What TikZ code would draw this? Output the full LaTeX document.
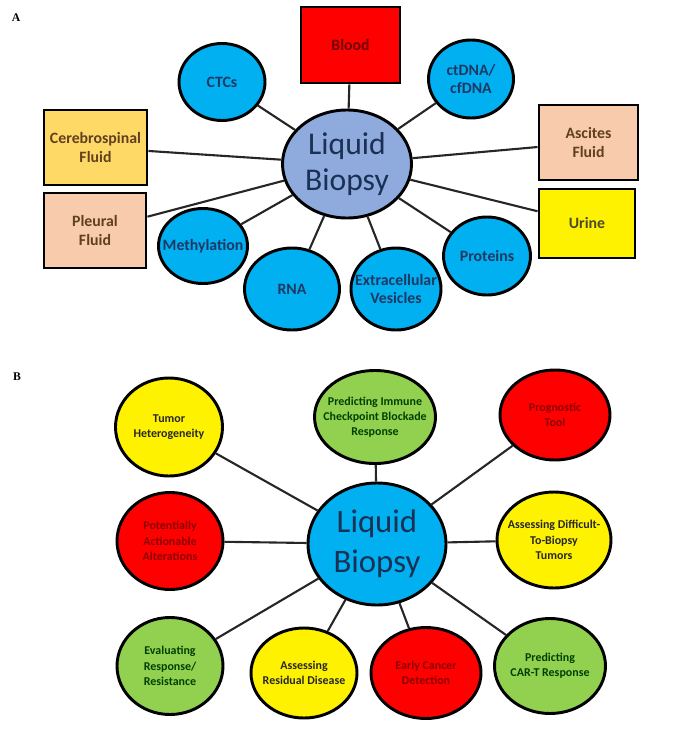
\documentclass[tikz,border=0pt]{standalone}
\usepackage{fontspec}
\setmainfont{Carlito}
\newfontfamily\panelfont{Liberation Serif}
\usetikzlibrary{shapes.geometric}

\definecolor{skyblue}{RGB}{0,176,240}
\definecolor{hubblue}{RGB}{143,170,220}
\definecolor{sand}{RGB}{255,217,102}
\definecolor{peach}{RGB}{248,203,173}
\definecolor{leaf}{RGB}{146,208,80}
\definecolor{navy}{RGB}{31,56,100}

\begin{document}
\begin{tikzpicture}[x=0.03cm, y=-0.03cm,
    sz/.style 2 args={minimum width=#1*0.03cm, minimum height=#2*0.03cm},
    bubble/.style={ellipse, draw=black, line width=2.5pt, inner sep=0pt},
    box/.style={rectangle, draw=black, line width=2.5pt, inner sep=0pt},
    link/.style={line width=1.8pt, black!85},
    fontA/.style={font=\bfseries\fontsize{13.5}{16}\selectfont},
    fontB/.style={font=\bfseries\fontsize{10.2}{13}\selectfont},
    every label/.style={align=center, inner sep=0pt}]
    \useasboundingbox (0,0) rectangle (692,731);

    % panel A: sources
    \begin{scope}[every label/.append style={fontA}]
        \node[font=\panelfont\bfseries] (labA) at (16,18) {A};

        \node[bubble, fill=hubblue, sz={129}{108}, align=center, text=navy!85!black,
              font=\fontsize{27}{30}\selectfont] (hubA) at (347,164) {Liquid\\Biopsy};

        \node[bubble, fill=skyblue, sz={86}{77}, label={[text=navy]center:CTCs}] (ctc) at (222,82) {};
        \node[box, fill=red, sz={99}{76}, label={[text=red!45!black]center:Blood}] (blood) at (350.5,45) {};
        \node[bubble, fill=skyblue, sz={85}{78}, label={[text=navy]center:ctDNA/\\cfDNA}] (cfdna) at (471,79) {};
        \node[box, fill=sand, sz={103}{75}, label={[text=brown!50!black]center:Cerebrospinal\\Fluid}] (csf) at (95.5,147.5) {};
        \node[box, fill=peach, sz={102}{75}, label={[text=brown!50!black]center:Pleural\\Fluid}] (pleural) at (95,230.5) {};
        \node[box, fill=peach, sz={99}{75}, label={[text=brown!50!black]center:Ascites\\Fluid}] (ascites) at (588.5,142.5) {};
        \node[box, fill=yellow, sz={96}{69}, label={[text=olive!40!black]center:Urine}] (urine) at (587,223.5) {};
        \node[bubble, fill=skyblue, sz={89}{75}, label={[text=navy]center:Methylation}] (methyl) at (203,246) {};
        \node[bubble, fill=skyblue, sz={95}{82}, label={[text=navy]center:RNA}] (rna) at (292,289) {};
        \node[bubble, fill=skyblue, sz={90}{82}, label={[text=navy]center:Extracellular\\Vesicles}] (ev) at (396,289) {};
        \node[bubble, fill=skyblue, sz={87}{78}, label={[text=navy]center:Proteins}] (prot) at (487,256) {};

        \foreach \n in {ctc, blood, cfdna, csf, pleural, ascites, urine, methyl, rna, ev, prot}
            \draw[link] (hubA) -- (\n);
    \end{scope}

    % panel B: applications
    \begin{scope}[every label/.append style={fontB}]
        \node[font=\panelfont\bfseries] (labB) at (17,377) {B};

        \node[bubble, fill=skyblue, sz={138}{122}, align=center, text=navy!85!black,
              font=\fontsize{28}{34}\selectfont] (hubB) at (377,544) {Liquid\\Biopsy};

        \node[bubble, fill=yellow, sz={107}{98}, label={[text=black!85]center:Tumor\\Heterogeneity}] (tumor) at (169,427) {};
        \node[bubble, fill=leaf, sz={121}{93}, label={[text=green!25!black]center:Predicting Immune\\Checkpoint Blockade\\Response}] (immune) at (375,417) {};
        \node[bubble, fill=red, sz={110}{90}, label={[text=red!55!black]center:Prognostic\\Tool}] (progn) at (555,415) {};
        \node[bubble, fill=red, sz={106}{97}, label={[text=red!55!black]center:Potentially\\Actionable\\Alterations}] (action) at (170,541) {};
        \node[bubble, fill=yellow, sz={114}{96}, label={[text=black!85]center:Assessing Difficult-\\To-Biopsy\\Tumors}] (difficult) at (554,540) {};
        \node[bubble, fill=leaf, sz={106}{97}, label={[text=green!25!black]center:Evaluating\\Response/\\Resistance}] (evaluate) at (170,666) {};
        \node[bubble, fill=yellow, sz={106}{90}, label={[text=black!85]center:Assessing\\Residual Disease}] (residual) at (304,673) {};
        \node[bubble, fill=red, sz={110}{91}, label={[text=red!55!black]center:Early Cancer\\Detection}] (early) at (426,673) {};
        \node[bubble, fill=leaf, sz={111}{95}, label={[text=green!25!black]center:Predicting\\CAR-T Response}] (cart) at (550,666) {};

        \foreach \n in {tumor, immune, progn, action, difficult, evaluate, residual, early, cart}
            \draw[link] (hubB) -- (\n);
    \end{scope}
\end{tikzpicture}
\end{document}
